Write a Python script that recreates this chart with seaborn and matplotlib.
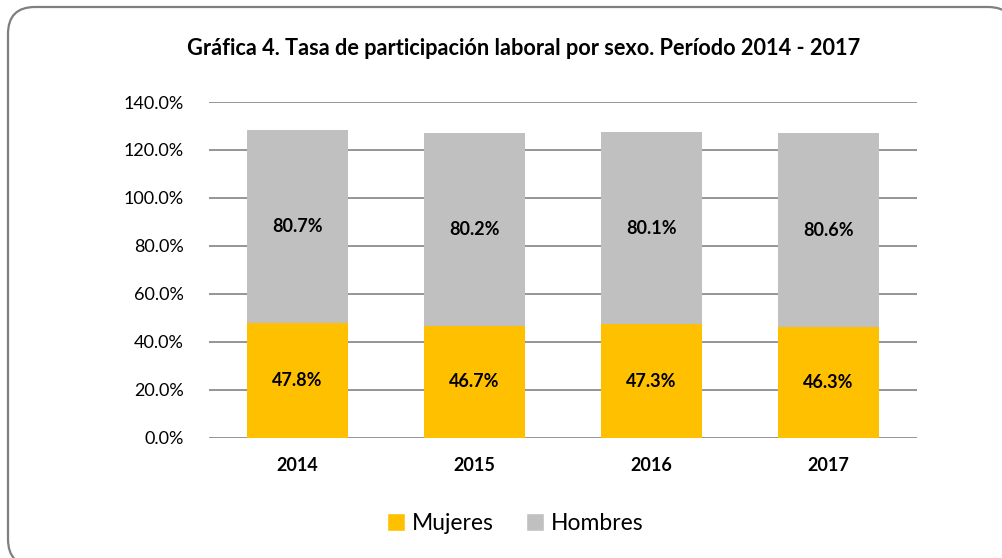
import pandas as pd
import seaborn as sns
import matplotlib.pyplot as plt
from matplotlib.patches import FancyBboxPatch, Patch

# Chart data
years = ['2014', '2015', '2016', '2017']
mujeres = [47.8, 46.7, 47.3, 46.3]
hombres = [80.7, 80.2, 80.1, 80.6]

df = pd.DataFrame({'Año': years, 'Mujeres': mujeres, 'Hombres': hombres})
df['Total'] = df['Mujeres'] + df['Hombres']

sns.set_theme(style='white')
plt.rcParams['font.family'] = ['Lato', 'DejaVu Sans']
plt.rcParams['text.color'] = 'black'
plt.rcParams['xtick.color'] = 'black'
plt.rcParams['ytick.color'] = 'black'

fig = plt.figure(figsize=(10.02, 5.58), dpi=100)

# rounded chart border in inches (runs off the right and bottom edges, as in the source)
frame = FancyBboxPatch((0.08, -0.08), 10.07, 5.59,
                       boxstyle='round,pad=0,rounding_size=0.27',
                       transform=fig.dpi_scale_trans, facecolor='white',
                       edgecolor='#7f7f7f', linewidth=1.6, zorder=-1)
fig.patches.append(frame)

ax = fig.add_axes([0.2086, 0.2151, 0.7066, 0.6021])
ax.set_facecolor('none')

# stacked bars: total in gray, women on top of it in yellow
sns.barplot(data=df, x='Año', y='Total', color='#c0c0c0', width=0.57,
            saturation=1, linewidth=0, ax=ax, zorder=3)
sns.barplot(data=df, x='Año', y='Mujeres', color='#ffc000', width=0.57,
            saturation=1, linewidth=0, ax=ax, zorder=3)

for i in range(len(years)):
    ax.text(i, mujeres[i] / 2, f'{mujeres[i]:.1f}%', ha='center', va='center',
            fontsize=13, fontweight='bold', color='black', zorder=4)
    ax.text(i, mujeres[i] + hombres[i] / 2, f'{hombres[i]:.1f}%', ha='center',
            va='center', fontsize=13, fontweight='bold', color='black', zorder=4)

ax.set_ylim(0, 140)
ax.set_xlim(-0.5, 3.5)
ax.set_yticks(range(0, 141, 20))
ax.set_yticklabels([f'{v:.1f}%' for v in range(0, 141, 20)], fontsize=13)
ax.yaxis.grid(True, color='#8c8c8c', linewidth=1.3, zorder=0)
ax.set_xlabel('')
ax.set_ylabel('')
for s in ax.spines.values():
    s.set_visible(False)
ax.tick_params(axis='y', length=0, pad=18)
ax.tick_params(axis='x', length=0, pad=14)
for lbl in ax.get_xticklabels():
    lbl.set_fontweight('bold')
    lbl.set_fontsize(13)

fig.text(0.523, 0.913, 'Gráfica 4. Tasa de participación laboral por sexo. Período 2014 - 2017',
         ha='center', va='center', fontsize=15.7, fontweight='bold')

handles = [Patch(facecolor='#ffc000', label='Mujeres'),
           Patch(facecolor='#c0c0c0', label='Hombres')]
fig.legend(handles=handles, loc='center', bbox_to_anchor=(0.514, 0.062), ncol=2,
           frameon=False, fontsize=16.5, handlelength=0.8, handleheight=0.8,
           handletextpad=0.3, columnspacing=1.4)

fig.savefig('out.png', dpi=100)
